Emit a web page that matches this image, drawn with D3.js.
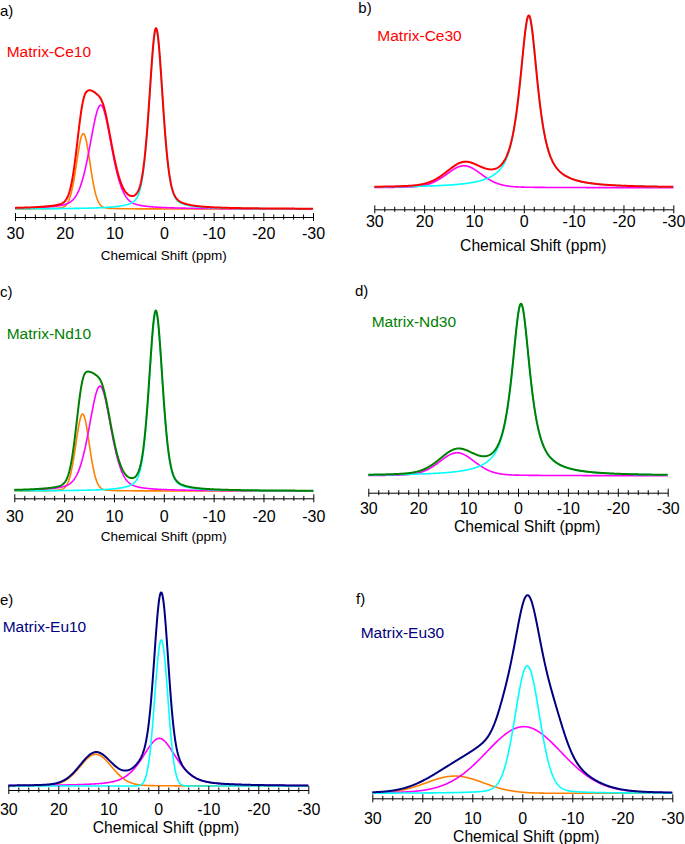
<!DOCTYPE html>
<html><head><meta charset="utf-8">
<script src="https://cdn.jsdelivr.net/npm/d3@7"></script>
<style>
html,body{margin:0;padding:0;background:#fff;}
svg{display:block;font-family:"Liberation Sans",Arial,Helvetica,sans-serif;}
</style>
</head><body>
<svg id="chart" width="685" height="844"></svg>
<script>
// ---------------- DATA ----------------
const tickValues = [30, 20, 10, 0, -10, -20, -30];
const tickLabels = ["30", "20", "10", "0", "-10", "-20", "-30"];
const minorTickValues = [28, 26, 24, 22, 18, 16, 14, 12, 8, 6, 4, 2, -2, -4, -6, -8, -12, -14, -16, -18, -22, -24, -26, -28];
const xTitle = "Chemical Shift (ppm)";
const panelLetters = ["a)", "b)", "c)", "d)", "e)", "f)"];
const sampleNames = ["Matrix-Ce10", "Matrix-Ce30", "Matrix-Nd10", "Matrix-Nd30", "Matrix-Eu10", "Matrix-Eu30"];

// Deconvoluted peaks:
// center (ppm), height (relative intensity, tallest envelope ~100), fwhm (ppm), eta (Lorentzian fraction)
const ce10Peaks = [
  {comp: "orange",  center: 16.25, height: 41.7, fwhm: 3.2, eta: 0.1},
  {comp: "magenta", center: 12.75, height: 57.5, fwhm: 5.2, eta: 0.35},
  {comp: "cyan",    center: 1.6,   height: 99.0, fwhm: 3.2, eta: 0.35}
];
// part of the measured envelope not covered by the drawn components
const ce10Unresolved = [{center: 14.4, height: 5.5, fwhm: 2.0, eta: 0}];

const ce30Peaks = [
  {comp: "magenta", center: 12.0, height: 12.7, fwhm: 8.4,  eta: 0.2},
  {comp: "cyan",    center: -1.0, height: 99.5, fwhm: 4.35, eta: 0.85}
];
const ce30Unresolved = [];

const nd10Peaks = [
  {comp: "orange",  center: 16.3, height: 42.7, fwhm: 3.2, eta: 0.1},
  {comp: "magenta", center: 12.8, height: 58.2, fwhm: 5.2, eta: 0.35},
  {comp: "cyan",    center: 1.6,  height: 99.0, fwhm: 3.2, eta: 0.35}
];
const nd10Unresolved = [{center: 14.4, height: 5.0, fwhm: 2.0, eta: 0}];

const nd30Peaks = [
  {comp: "magenta", center: 12.2, height: 13.3, fwhm: 8.4, eta: 0.2},
  {comp: "cyan",    center: -0.6, height: 99.5, fwhm: 4.4, eta: 0.85}
];
const nd30Unresolved = [];

const eu10Peaks = [
  {comp: "orange",  center: 12.5, height: 16.4, fwhm: 7.5, eta: 0.1},
  {comp: "magenta", center: -0.2, height: 24.6, fwhm: 8.0, eta: 0.5},
  {comp: "cyan",    center: -0.6, height: 75.4, fwhm: 3.1, eta: 0}
];
const eu10Unresolved = [];

const eu30Peaks = [
  {comp: "orange",  center: 13.5, height: 8.8,  fwhm: 13.5, eta: 0},
  {comp: "magenta", center: -0.3, height: 34.0, fwhm: 18.0, eta: 0.1},
  {comp: "cyan",    center: -1.0, height: 65.0, fwhm: 5.8,  eta: 0.15}
];
const eu30Unresolved = [
  {center: 3.5,  height: 8.0,  fwhm: 4.0, eta: 0},
  {center: -6.0, height: 16.0, fwhm: 5.5, eta: 0}
];

// ---------------- STYLES ----------------
const compColors = {orange: "#ff8000", magenta: "#ff00ff", cyan: "#00ffff"};
const totalColors = ["#ff0000", "#ff0000", "#008000", "#008000", "#000080", "#000080"];

// ---------------- LAYOUT ----------------
const layouts = [
  {x0: 15,    x1: 313,   axisY: 217,   baseY: 209,   topY: 28.3,  tickY: 233.8, tickFs: 16, titleX: 163.7, titleY: 255,   titleFs: 13.5, labelX: 6.7,   labelY: 51.7,  letterX: 0,     letterY: 10},
  {x0: 374.3, x1: 673.3, axisY: 209.3, baseY: 187.7, topY: 15,    tickY: 222,   tickFs: 16, titleX: 533.3, titleY: 245,   titleFs: 15.7, labelX: 377.3, labelY: 35.7,  letterX: 358.3, letterY: 7},
  {x0: 14.3,  x1: 313.3, axisY: 498.3, baseY: 491,   topY: 310.7, tickY: 516.7, tickFs: 16, titleX: 163.7, titleY: 536.7, titleFs: 13.5, labelX: 6.7,   labelY: 333.3, letterX: 0,     letterY: 291.7},
  {x0: 368.3, x1: 667.7, axisY: 492.7, baseY: 475.7, topY: 303.3, tickY: 508.3, tickFs: 16, titleX: 527.2, titleY: 526.7, titleFs: 15.7, labelX: 371.7, labelY: 321.7, letterX: 355,   letterY: 290},
  {x0: 8.3,   x1: 308.3, axisY: 790,   baseY: 786,   topY: 592.3, tickY: 809.3, tickFs: 16, titleX: 166,   titleY: 827.7, titleFs: 15.7, labelX: 2.7,   labelY: 626,   letterX: 0,     letterY: 599.3},
  {x0: 372.3, x1: 672.3, axisY: 798.3, baseY: 793.3, topY: 597.3, tickY: 818.3, tickFs: 16, titleX: 526.3, titleY: 836.7, titleFs: 15.7, labelX: 360.7, labelY: 632.3, letterX: 356,   letterY: 598.3}
];

const peakSets = [ce10Peaks, ce30Peaks, nd10Peaks, nd30Peaks, eu10Peaks, eu30Peaks];
const unresolvedSets = [ce10Unresolved, ce30Unresolved, nd10Unresolved, nd30Unresolved, eu10Unresolved, eu30Unresolved];

// ---------------- DRAW ----------------
const svg = d3.select("#chart");
const grid = d3.range(300, -301, -1).map(v => v / 10);

function pseudoVoigt(p, s) {
  const d = (s - p.center) / (p.fwhm / 2);
  const lor = 1 / (1 + d * d);
  const gau = Math.exp(-Math.LN2 * d * d);
  return p.height * (p.eta * lor + (1 - p.eta) * gau);
}

layouts.forEach((L, i) => {
  const g = svg.append("g");
  const x = d3.scaleLinear().domain([30, -30]).range([L.x0, L.x1]);
  const y = d3.scaleLinear().domain([0, 100]).range([L.baseY, L.topY]);
  const line = d3.line().x(d => x(d[0])).y(d => y(d[1]));

  const peaks = peakSets[i];
  const extra = unresolvedSets[i];

  peaks.forEach(p => {
    const pts = grid.map(s => [s, pseudoVoigt(p, s)]);
    g.append("path").attr("d", line(pts)).attr("fill", "none")
      .attr("stroke", compColors[p.comp]).attr("stroke-width", 1.6)
      .attr("stroke-linejoin", "round");
  });
  const totalPts = grid.map(s => [s, d3.sum(peaks, p => pseudoVoigt(p, s)) + d3.sum(extra, p => pseudoVoigt(p, s))]);
  g.append("path").attr("d", line(totalPts)).attr("fill", "none")
    .attr("stroke", totalColors[i]).attr("stroke-width", 2)
    .attr("stroke-linejoin", "round");

  // axis (major)
  const ax = g.append("g").attr("transform", `translate(0,${L.axisY})`)
    .call(d3.axisBottom(x).tickValues(tickValues).tickFormat((d, k) => tickLabels[k]).tickSizeOuter(0).tickSizeInner(4));
  ax.select(".domain").attr("stroke", "#000").attr("stroke-width", 1);
  ax.selectAll(".tick line").attr("y1", -4).attr("y2", 4).attr("stroke", "#000");
  ax.selectAll(".tick text").attr("y", L.tickY - L.axisY).attr("dy", null)
    .attr("dominant-baseline", "central").attr("font-size", L.tickFs)
    .attr("font-family", "Liberation Sans, Arial, sans-serif").attr("fill", "#000");
  // minor ticks
  const mx = g.append("g").attr("transform", `translate(0,${L.axisY})`)
    .call(d3.axisBottom(x).tickValues(minorTickValues).tickFormat("").tickSizeOuter(0));
  mx.select(".domain").remove();
  mx.selectAll(".tick line").attr("y1", -2.5).attr("y2", 2.5).attr("stroke", "#000");

  g.append("text").attr("x", L.titleX).attr("y", L.titleY).attr("text-anchor", "middle")
    .attr("dominant-baseline", "central").attr("font-size", L.titleFs).attr("fill", "#000").text(xTitle);
  g.append("text").attr("x", L.labelX).attr("y", L.labelY).attr("dominant-baseline", "central")
    .attr("font-size", 15.5).attr("fill", totalColors[i]).text(sampleNames[i]);
  g.append("text").attr("x", L.letterX).attr("y", L.letterY).attr("dominant-baseline", "central")
    .attr("font-size", 15).attr("fill", "#000").text(panelLetters[i]);
});
</script>
</body></html>
